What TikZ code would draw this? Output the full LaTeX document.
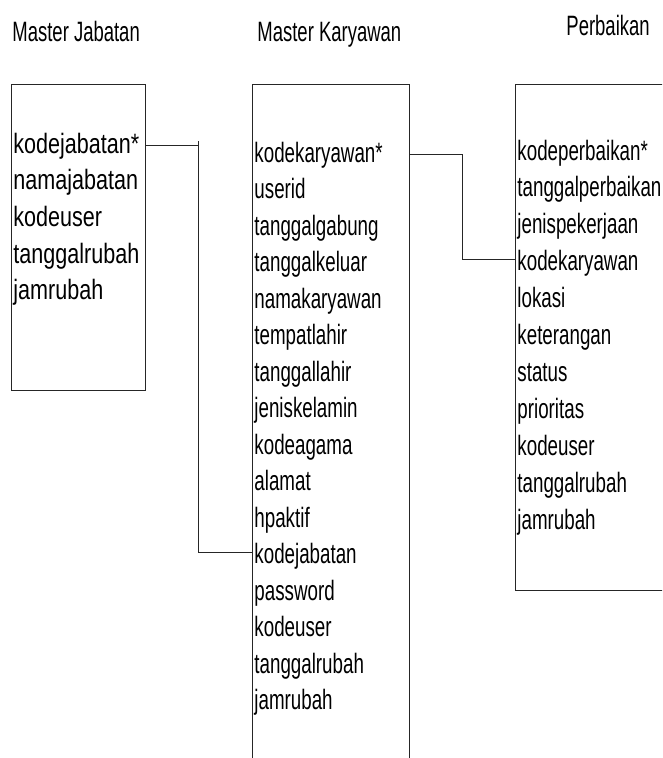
\documentclass[tikz,border=0pt]{standalone}
\usepackage{fontspec}
\setmainfont{Liberation Sans}
% condensed cuts of the same face for the headings and the field lists
\newfontfamily\headfont{Liberation Sans}[FakeStretch=0.66]
\newfontfamily\fieldfont{Liberation Sans}[FakeStretch=0.67]
\newfontfamily\widefieldfont{Liberation Sans}[FakeStretch=0.77]
\begin{document}
\begin{tikzpicture}[x=1pt,y=-1pt,line width=0.9pt,
  tablebox/.style={draw=black!85,inner sep=0pt,anchor=north west},
  field/.style={anchor=base west,inner sep=0pt,font=\fieldfont\fontsize{28}{32}\selectfont},
  widefield/.style={field,font=\widefieldfont\fontsize{28}{32}\selectfont},
  heading/.style={anchor=base west,inner sep=0pt,font=\headfont\fontsize{28}{32}\selectfont},
  link/.style={draw=black!85}]
\useasboundingbox (0,0) rectangle (662,758);
\clip (0,0) rectangle (662,758);

% headings
\node[heading] (hjab) at (12,41) {Master Jabatan};
\node[heading] (hkar) at (257,41) {Master Karyawan};
\node[heading] (hper) at (566,35) {Perbaikan};

% table frames
\node[tablebox,minimum width=134pt,minimum height=306pt] (jab) at (11,84) {};
\node[tablebox,minimum width=157pt,minimum height=700pt] (kar) at (252,84) {};
\node[tablebox,minimum width=190pt,minimum height=506pt] (per) at (515,84) {};

% Master Jabatan fields
\foreach \t [count=\i from 0] in {kodejabatan*,namajabatan,kodeuser,tanggalrubah,jamrubah}
  \node[widefield] (j\i) at (13,153+36.7*\i) {\t};

% Master Karyawan fields
\foreach \t [count=\i from 0] in {kodekaryawan*,userid,tanggalgabung,tanggalkeluar,namakaryawan,tempatlahir,tanggallahir,jeniskelamin,kodeagama,alamat,hpaktif,kodejabatan,password,kodeuser,tanggalrubah,jamrubah}
  \node[field] (k\i) at (254,162+36.5*\i) {\t};

% Perbaikan fields
\foreach \t [count=\i from 0] in {kodeperbaikan*,tanggalperbaikan,jenispekerjaan,kodekaryawan,lokasi,keterangan,status,prioritas,kodeuser,tanggalrubah,jamrubah}
  \node[field] (p\i) at (517,160+36.9*\i) {\t};

% relation: kodejabatan
\coordinate (r1top) at (198,141);
\coordinate (r1a) at (198,145);
\coordinate (r1b) at (198,552);
\draw[link] (jab.east |- r1a) -- (r1a);
\draw[link] (r1top) -- (r1b) -- (kar.west |- r1b);

% relation: kodekaryawan
\coordinate (r2a) at (462,154);
\coordinate (r2b) at (462,259);
\draw[link] (kar.east |- r2a) -- (r2a) -- (r2b) -- (per.west |- r2b);
\end{tikzpicture}
\end{document}
